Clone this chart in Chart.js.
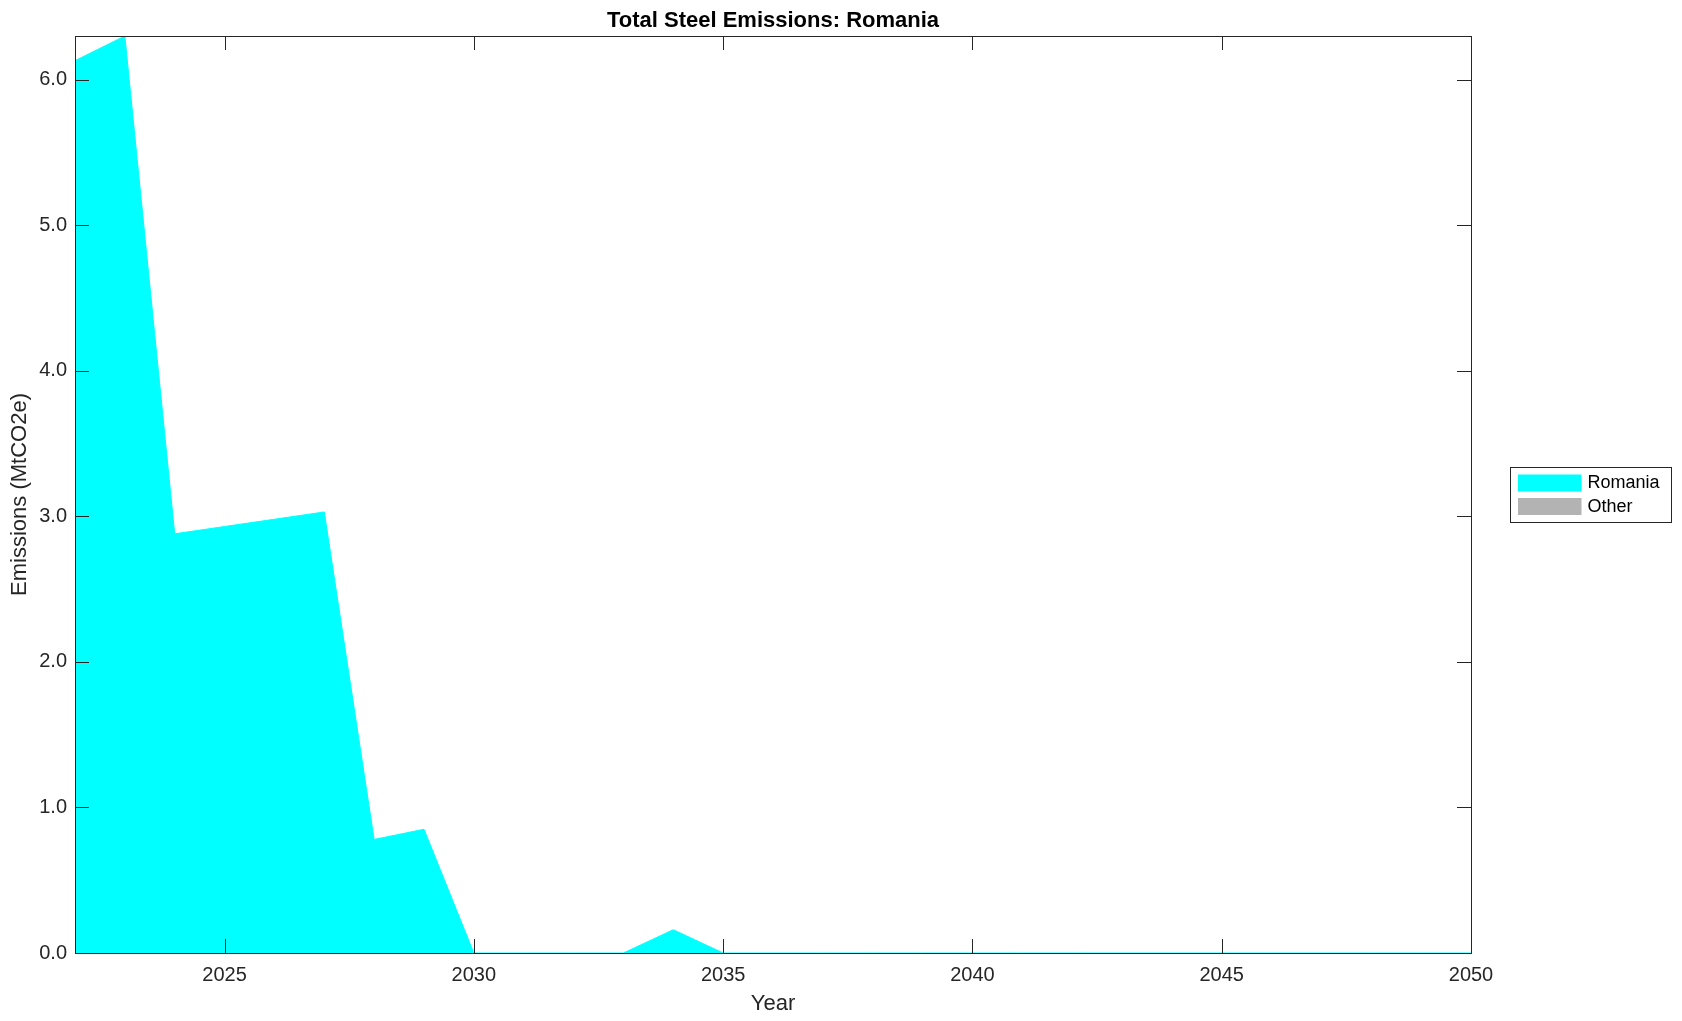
<!DOCTYPE html>
<html lang="en">
<head>
  <meta charset="UTF-8">
  <title>Total Steel Emissions: Romania</title>
  <script src="https://cdn.jsdelivr.net/npm/chart.js"></script>
  <style>
    html, body { margin: 0; padding: 0; background: #fff; }
    canvas { display: block; }
  </style>
</head>
<body>
  <canvas id="chart" width="1682" height="1021"></canvas>

  <script>
    // Data
    const years = [2022, 2023, 2024, 2025, 2026, 2027, 2028, 2029, 2030, 2031,
                   2032, 2033, 2034, 2035, 2036, 2037, 2038, 2039, 2040, 2041,
                   2042, 2043, 2044, 2045, 2046, 2047, 2048, 2049, 2050];
    const romania = [6.13, 6.30, 2.88, 2.93, 2.98, 3.03, 0.78, 0.85, 0, 0,
                     0, 0, 0.16, 0, 0, 0, 0, 0, 0, 0,
                     0, 0, 0, 0, 0, 0, 0, 0, 0];
    const other = [0, 0, 0, 0, 0, 0, 0, 0, 0, 0,
                   0, 0, 0, 0, 0, 0, 0, 0, 0, 0,
                   0, 0, 0, 0, 0, 0, 0, 0, 0];
    const xTicks = [2025, 2030, 2035, 2040, 2045, 2050];
    const yTicks = [0, 1, 2, 3, 4, 5, 6];

    const axisColor = '#262626';
    const fontFamily = 'Helvetica, Arial, "Liberation Sans", sans-serif';

    // frame, inside ticks (mirrored) and the legend box on the right
    const framePlugin = {
      id: 'frame',
      afterDraw(chart) {
        const { ctx, chartArea: a, scales } = chart;
        const len = 14;
        ctx.save();
        ctx.strokeStyle = axisColor;
        ctx.lineWidth = 1;
        ctx.strokeRect(Math.round(a.left) + 0.5, Math.round(a.top) + 0.5,
                       Math.round(a.right - a.left), Math.round(a.bottom - a.top));
        ctx.beginPath();
        scales.x.ticks.forEach(t => {
          const px = Math.round(scales.x.getPixelForValue(t.value)) + 0.5;
          ctx.moveTo(px, a.bottom); ctx.lineTo(px, a.bottom - len);
          ctx.moveTo(px, a.top); ctx.lineTo(px, a.top + len);
        });
        scales.y.ticks.forEach(t => {
          const py = Math.round(scales.y.getPixelForValue(t.value)) + 0.5;
          ctx.moveTo(a.left, py); ctx.lineTo(a.left + len, py);
          ctx.moveTo(a.right, py); ctx.lineTo(a.right - len, py);
        });
        ctx.stroke();

        // legend
        const bx = Math.round(a.right) + 39.5;
        const bw = 161, bh = 55;
        const by = Math.round((a.top + a.bottom) / 2 - bh / 2) + 0.5;
        ctx.fillStyle = '#fff';
        ctx.fillRect(bx, by, bw, bh);
        ctx.strokeRect(bx, by, bw, bh);
        ctx.font = '18px ' + fontFamily;
        ctx.textBaseline = 'middle';
        chart.data.datasets.forEach((ds, i) => {
          const rowY = by + 15.5 + i * 23.5;
          ctx.fillStyle = ds.backgroundColor;
          ctx.fillRect(bx + 7.5, rowY - 8.5, 63.5, 17);
          ctx.fillStyle = '#000';
          ctx.fillText(ds.label, bx + 77, rowY + 0.5);
        });
        ctx.restore();
      }
    };

    new Chart(document.getElementById('chart'), {
      type: 'line',
      data: {
        labels: years,
        datasets: [
          {
            label: 'Romania',
            data: years.map((y, i) => ({ x: y, y: romania[i] })),
            backgroundColor: '#00ffff',
            borderColor: '#00ffff',
            borderWidth: 1,
            pointRadius: 0,
            fill: 'origin',
            tension: 0
          },
          {
            label: 'Other',
            data: years.map((y, i) => ({ x: y, y: other[i] })),
            backgroundColor: '#b3b3b3',
            borderColor: 'rgba(0,0,0,0)',
            borderWidth: 0,
            pointRadius: 0,
            fill: '-1',
            tension: 0
          }
        ]
      },
      options: {
        responsive: false,
        animation: false,
        devicePixelRatio: 1,
        layout: { padding: { top: 0, right: 211, bottom: 0, left: 0 } },
        plugins: {
          legend: { display: false },
          tooltip: { enabled: false },
          title: {
            display: true,
            text: 'Total Steel Emissions: Romania',
            color: '#000',
            fullSize: false,
            font: { family: fontFamily, size: 22, weight: 'bold', lineHeight: 1.2 },
            padding: { top: 8, bottom: 1.6 }
          }
        },
        scales: {
          x: {
            type: 'linear',
            min: 2022,
            max: 2050,
            grid: { display: false, drawTicks: false },
            border: { display: false },
            afterBuildTicks: s => { s.ticks = xTicks.map(v => ({ value: v })); },
            afterFit: s => { s.height = 68; },
            ticks: {
              color: axisColor,
              padding: 10.5,
              maxRotation: 0,
              font: { family: fontFamily, size: 20 },
              callback: v => String(v)
            },
            title: {
              display: true,
              text: 'Year',
              color: axisColor,
              font: { family: fontFamily, size: 22, lineHeight: 1.2 },
              padding: { top: 0, bottom: 4 }
            }
          },
          y: {
            stacked: true,
            min: 0,
            max: 6.3,
            grid: { display: false, drawTicks: false },
            border: { display: false },
            afterBuildTicks: s => { s.ticks = yTicks.map(v => ({ value: v })); },
            afterFit: s => { s.width = 75; },
            ticks: {
              color: axisColor,
              padding: 8,
              font: { family: fontFamily, size: 20 },
              callback: v => v.toFixed(1)
            },
            title: {
              display: true,
              text: 'Emissions (MtCO2e)',
              color: axisColor,
              font: { family: fontFamily, size: 22, lineHeight: 1.2 },
              padding: { top: 7, bottom: 0 }
            }
          }
        }
      },
      plugins: [framePlugin]
    });
  </script>
</body>
</html>
